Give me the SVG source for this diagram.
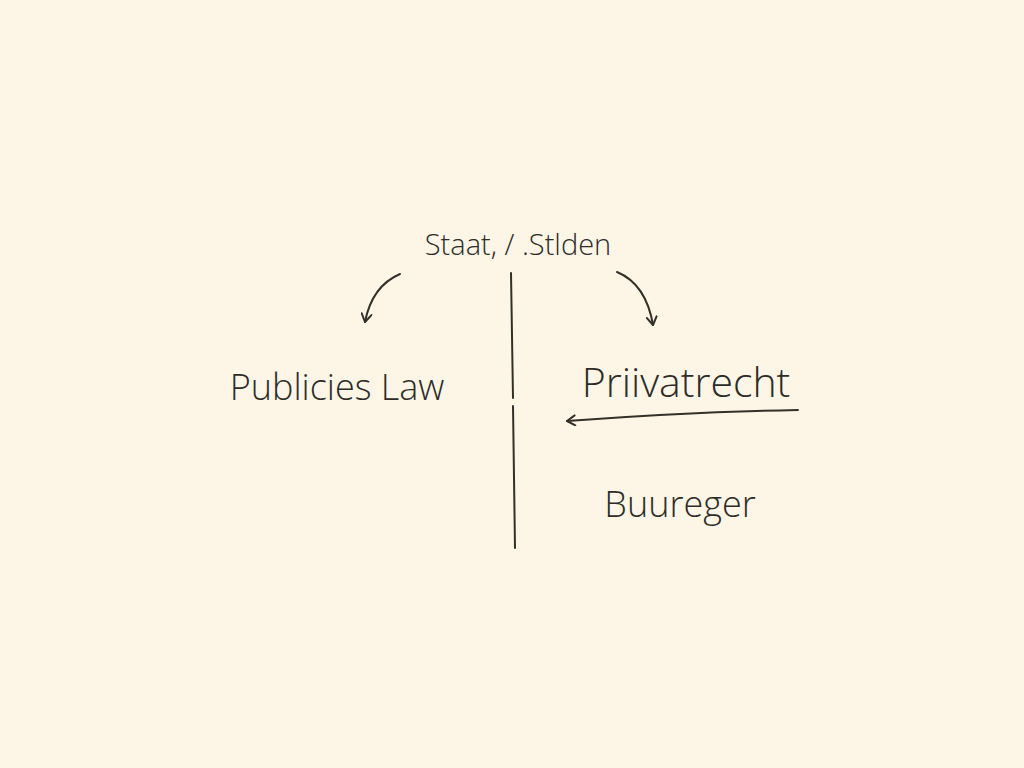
<svg xmlns="http://www.w3.org/2000/svg" width="1024" height="768" viewBox="0 0 1024 768">
<defs>
<style>
.t{font-family:"Open Sans","Liberation Sans",sans-serif;font-weight:300;fill:#2e2c28}
.c{fill:none;stroke:#333029;stroke-width:2;stroke-linecap:round;stroke-linejoin:round}
</style>
<marker id="ah" viewBox="0 0 12 12" refX="10" refY="6" markerWidth="12" markerHeight="12" markerUnits="userSpaceOnUse" orient="auto">
<path d="M2,1 L10,6 L2,11" fill="none" stroke="#333029" stroke-width="2" stroke-linecap="round" stroke-linejoin="round"/>
</marker>
</defs>
<rect width="1024" height="768" fill="#fdf6e6"/>
<g id="connectors">
<path class="c" d="M511,273 L513,398"/>
<path class="c" d="M513,406 L515,548"/>
<path class="c" d="M400,274 Q372,286 365,322" marker-end="url(#ah)"/>
<path class="c" d="M617,272 Q646,284 653,325" marker-end="url(#ah)"/>
<path class="c" d="M798,410 Q690,412 567,421" marker-end="url(#ah)"/>
</g>
<g id="node-staat"><text class="t" x="518" y="255" font-size="29" text-anchor="middle">Staat, / .Stlden</text></g>
<g id="node-public"><text class="t" x="337" y="400" font-size="36" text-anchor="middle">Publicies Law</text></g>
<g id="node-privat"><text class="t" x="686" y="397" font-size="41" text-anchor="middle">Priivatrecht</text></g>
<g id="node-buureger"><text class="t" x="680" y="517" font-size="36" text-anchor="middle">Buureger</text></g>
</svg>
